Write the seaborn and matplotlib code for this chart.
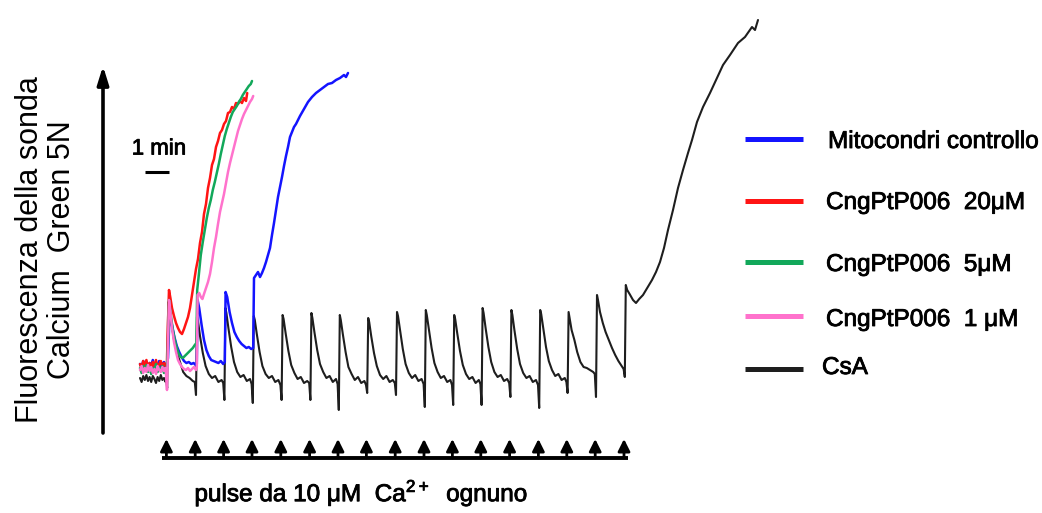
import matplotlib
matplotlib.use("Agg")
import matplotlib.pyplot as plt
import matplotlib.patheffects as pe
from matplotlib.lines import Line2D
from matplotlib.transforms import blended_transform_factory
import seaborn as sns

# ---- calcium retention traces: time (s) vs Calcium Green 5N fluorescence (a.u.) ----
pulse_times = [68, 140, 211, 282, 354, 426, 497, 568, 640, 712, 783, 854, 926, 998, 1069, 1140, 1212]

ctrl_t = [0, 4, 8, 12, 16, 20, 24, 28, 32, 36, 40, 44, 48, 52, 56, 60, 64, 67,
          70, 74, 80, 86, 92, 98, 104, 110, 116, 122, 128, 134, 139, 142,
          144, 148, 154, 160, 166, 172, 178, 184, 190, 196, 202, 208, 212,
          214, 218, 224, 230, 236, 242, 248, 254, 260, 266, 272, 278, 283,
          285, 290, 295, 300, 305, 310, 315, 320, 325, 330, 335, 340, 345, 350, 355, 360,
          365, 370, 375, 380, 385, 390, 395, 400, 410, 420, 430, 440, 450, 460, 470, 480,
          490, 500, 510, 515, 520]
ctrl_f = [76, 73, 79, 74, 78, 72, 77, 75, 80, 73, 77, 74, 79, 72, 76, 78, 73, 75,
          82, 127, 115, 103, 94, 88, 83, 79, 77, 78, 76, 77, 75, 76,
          140, 132, 115, 100, 90, 84, 80, 79, 78, 77, 79, 76, 78,
          148, 143, 128, 117, 108, 103, 99, 96, 94, 92, 93, 91, 92,
          162, 165, 168, 163, 167, 172, 178, 185, 192, 205, 217, 230, 243, 253, 263, 274,
          284, 293, 303, 308, 313, 316, 320, 324, 331, 338, 343, 347, 350, 353, 356, 357,
          360, 362, 365, 363, 367]

p20_t = [0, 4, 8, 12, 16, 20, 24, 28, 32, 36, 40, 44, 48, 52, 56, 60, 64, 67,
         70, 72.5, 76, 80,
         85, 90, 95, 100, 105, 110, 115, 120, 125, 130,
         135, 140, 145, 150, 155, 160, 165, 170, 175, 180,
         185, 190, 195, 200, 205, 210, 215, 220, 225, 230,
         235, 240, 245, 250, 255, 260, 265, 268]
p20_f = [76, 71, 79, 73, 80, 72, 77, 70, 78, 74, 80, 71, 76, 79, 72, 77, 74, 73,
         118, 150, 142, 132,
         124, 117, 112, 108, 106, 111, 117, 123, 132, 145,
         158, 171, 181, 197, 208, 226, 236, 252, 262, 275,
         281, 293, 299, 307, 310, 316, 319, 327, 328, 333,
         331, 337, 336, 339, 337, 342, 339, 347]

p5_t = [0, 4, 8, 12, 16, 20, 24, 28, 32, 36, 40, 44, 48, 52, 56, 60, 64, 67,
        70, 72.5, 77, 82, 87, 92, 97, 102, 107, 112, 117, 122, 127, 132, 137, 141,
        143, 147, 152, 157, 162, 167, 172, 177, 182, 187, 192, 197,
        202, 207, 212, 217, 222, 227, 232, 237, 242, 247,
        252, 257, 262, 267, 272, 277, 280]
p5_f = [72, 67, 74, 69, 75, 68, 73, 66, 72, 70, 76, 68, 73, 69, 74, 67, 71, 70,
        95, 140, 125, 110, 100, 92, 86, 83, 82, 84, 86, 88, 90, 92, 95, 97,
        150, 165, 185, 198, 210, 222, 232, 240, 250, 258, 267, 276,
        286, 295, 304, 311, 317, 323, 328, 331, 334, 338,
        341, 345, 348, 351, 354, 356, 359]

p1_t = [0, 4, 8, 12, 16, 20, 24, 28, 32, 36, 40, 44, 48, 52, 56, 60, 64, 67.5,
        72.5, 76, 80, 85, 90, 95, 100, 105, 110, 115, 120, 125, 130, 135, 140, 142,
        144, 148, 152, 156, 160,
        165, 170, 175, 180, 185, 190, 195, 200, 205, 210, 215, 220,
        225, 230, 235, 240, 245, 250, 255, 260, 265, 270, 275, 280, 283]
p1_f = [70, 74, 67, 72, 68, 75, 69, 73, 67, 71, 66, 74, 70, 68, 73, 69, 72, 50,
        140, 128, 112, 98, 88, 80, 76, 73, 71, 70, 72, 69, 71, 73, 70, 72,
        145, 147, 143, 141, 146,
        152, 158, 166, 178, 192, 203, 216, 228, 237, 246, 257, 268,
        277, 285, 293, 301, 309, 315, 321, 326, 330, 334, 338, 341, 344]

csa_t = [0, 4, 8, 12, 16, 20, 24, 28, 32, 36, 40, 44, 48, 52, 56, 60, 64,
         65, 68, 70.5, 73, 78, 85, 92, 100, 108, 116, 124, 132,
         137, 140, 142.5, 145, 150, 157, 164, 172, 180, 188, 196, 204,
         208, 211, 213.5, 216, 221, 228, 235, 243, 251, 259, 267, 275,
         279, 282, 284.5, 287, 292, 299, 306, 314, 322, 330, 338, 346,
         351, 354, 356.5, 359, 364, 371, 378, 386, 394, 402, 410, 418,
         423, 426, 428.5, 431, 436, 443, 450, 458, 466, 474, 482, 490,
         494, 497, 499.5, 502, 507, 514, 521, 529, 537, 545, 553, 561,
         565, 568, 570.5, 573, 578, 585, 592, 600, 608, 616, 624, 632,
         637, 640, 642.5, 645, 650, 657, 664, 672, 680, 688, 696, 704,
         709, 712, 714.5, 717, 722, 729, 736, 744, 752, 760, 768, 776,
         780, 783, 785.5, 788, 793, 800, 807, 815, 823, 831, 839, 847,
         851, 854, 856.5, 859, 864, 871, 878, 886, 894, 902, 910, 918,
         923, 926, 928.5, 931, 936, 943, 950, 958, 966, 974, 982, 990,
         995, 998, 1000.5, 1003, 1008, 1015, 1022, 1030, 1038, 1046, 1054, 1062,
         1066, 1069, 1071.5, 1074, 1079, 1086, 1093, 1101, 1109, 1117, 1125, 1133,
         1137, 1140, 1142.5, 1145, 1150, 1157, 1164, 1172, 1180, 1188, 1196, 1204, 1209,
         1212, 1214.5, 1218, 1224, 1232.5, 1240, 1248, 1257.5, 1268, 1280, 1290, 1300,
         1310, 1320, 1332.5, 1345, 1357.5, 1370, 1380, 1392.5, 1407.5, 1425, 1442.5,
         1457.5, 1475, 1495, 1512.5, 1530, 1537.5, 1545]
csa_f = [62, 58, 64, 60, 65, 59, 63, 58, 64, 61, 57, 63, 59, 65, 60, 62, 58,
         61, 52, 138, 133, 118, 100, 88, 78, 68, 64, 62, 59,
         58, 45, 123, 119, 104, 87, 74, 66, 62, 64, 58, 60,
         57, 40, 132, 127, 112, 93, 78, 68, 63, 65, 59, 61,
         56, 37, 124, 120, 106, 88, 74, 66, 62, 64, 58, 60,
         55, 40, 125, 121, 107, 89, 75, 67, 61, 63, 57, 59,
         57, 40, 127, 122, 108, 90, 76, 68, 62, 64, 58, 61,
         56, 30, 125, 120, 106, 88, 73, 66, 60, 63, 57, 59,
         55, 47, 122, 118, 104, 87, 74, 65, 61, 64, 58, 60,
         57, 45, 128, 124, 110, 91, 76, 67, 62, 65, 59, 61,
         56, 33, 130, 125, 111, 92, 77, 68, 62, 64, 58, 60,
         55, 35, 125, 121, 107, 89, 75, 66, 61, 63, 57, 60,
         56, 35, 132, 127, 112, 93, 78, 68, 63, 65, 59, 61,
         57, 43, 130, 125, 110, 91, 76, 67, 62, 64, 58, 60,
         55, 32, 130, 126, 112, 93, 79, 70, 64, 66, 60, 62,
         58, 47, 128, 122, 110, 100, 88, 78, 73, 72, 70, 68,
         66, 43, 145, 140, 128, 117, 108, 100, 92, 85, 79, 74, 71,
         63, 155, 150, 146, 140, 137, 141, 145, 152, 160, 168, 178,
         192, 210, 230, 252, 270, 287, 300, 318, 333, 347, 362,
         375, 385, 397, 403, 413, 410, 420]

series_labels = ["Mitocondri controllo", "CngPtP006  20\u03bcM", "CngPtP006  5\u03bcM",
                 "CngPtP006  1 \u03bcM", "CsA"]
series_colors = ["#1414ff", "#ff1414", "#12a85a", "#ff72cc", "#1e1e1e"]
scale_bar_s = 60

# ---- figure ----
W, H = 1042, 513
sns.set_theme(style="white")
plt.rcParams["font.family"] = ["Liberation Sans", "DejaVu Sans"]
plt.rcParams["mathtext.fontset"] = "custom"
plt.rcParams["mathtext.rm"] = "Liberation Sans"

fig = plt.figure(figsize=(W / 100, H / 100), dpi=100)
ax = fig.add_axes([0, 0, 1, 1])
ax.set_xlim(-350, 2255)
ax.set_ylim(-73, 440)
ax.axis("off")

heavy = [pe.withStroke(linewidth=0.6, foreground="black")]


def fx(px):
    return px / W


def fy(py):
    return 1 - py / H


traces = [(csa_t, csa_f, 4, 1.5), (ctrl_t, ctrl_f, 0, 1.8), (p20_t, p20_f, 1, 1.8),
          (p5_t, p5_f, 2, 1.8), (p1_t, p1_f, 3, 1.8)]
for t, f, idx, lw in traces:
    sns.lineplot(x=t, y=f, ax=ax, color=series_colors[idx], lw=lw, sort=False,
                 estimator=None, legend=False)

# fluorescence axis arrow
ax.annotate("", xy=(fx(103), fy(66)), xytext=(fx(103), fy(433)),
            xycoords="figure fraction", textcoords="figure fraction",
            arrowprops=dict(arrowstyle="-|>,head_length=0.9,head_width=0.28",
                            lw=2.6, color="black", shrinkA=0, shrinkB=0))

# Ca2+ additions: baseline with one arrow per pulse
trans = blended_transform_factory(ax.transData, fig.transFigure)
ax.plot([pulse_times[0] - 14, pulse_times[-1] + 8], [fy(458), fy(458)],
        transform=trans, color="black", lw=2.8, solid_capstyle="butt")
for p in pulse_times:
    ax.annotate("", xy=(p - 2, fy(439)), xytext=(p - 2, fy(458)),
                xycoords=("data", "figure fraction"),
                textcoords=("data", "figure fraction"),
                arrowprops=dict(arrowstyle="-|>,head_length=0.6,head_width=0.3",
                                lw=2.0, color="black", shrinkA=0, shrinkB=0))

# time scale bar
ax.plot([12.5, 12.5 + scale_bar_s], [268, 268], color="black", lw=2.2,
        solid_capstyle="butt")
fig.text(fx(159), fy(149), "1 min", ha="center", va="center", fontsize=16,
         color="black", path_effects=heavy)

# legend
legend_line_y = [139, 201, 262, 316, 369]
legend_text_y = [142, 203, 265, 320, 368]
legend_text_x = [828, 826, 826, 826, 822]
for i, label in enumerate(series_labels):
    fig.add_artist(Line2D([fx(745), fx(803)], [fy(legend_line_y[i])] * 2,
                          transform=fig.transFigure, color=series_colors[i],
                          lw=3.6, solid_capstyle="butt"))
    fig.text(fx(legend_text_x[i]), fy(legend_text_y[i]), label, ha="left",
             va="center", fontsize=17.5, color="black", path_effects=heavy)

# axis captions
fig.text(fx(46), fy(250), "Fluorescenza della sonda\nCalcium  Green 5N",
         rotation=90, ha="center", va="center", fontsize=22, linespacing=1.05,
         multialignment="center", color="black")
fig.text(fx(361), fy(493), r"pulse da 10 $\mathregular{\mu}$M  Ca$^{\mathregular{2+}}$  ognuno",
         ha="center", va="center", fontsize=17.5, color="black", path_effects=heavy)

fig.savefig("out.png", dpi=100, facecolor="white")
